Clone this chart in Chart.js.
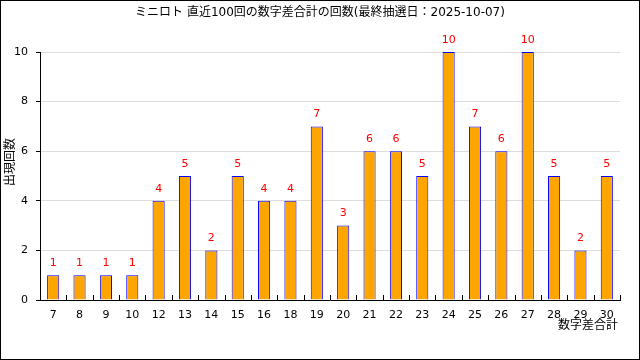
<!DOCTYPE html>
<html>
<head>
<meta charset="utf-8">
<script src="https://cdn.jsdelivr.net/npm/chart.js@4/dist/chart.umd.min.js"></script>
<style>
  html, body { margin: 0; padding: 0; background: #fff; }
  #wrap { width: 640px; height: 360px; position: relative; }
</style>
</head>
<body>
<div id="wrap"><canvas id="myChart" width="640" height="360"></canvas></div>
<script>
const categories = ['7', '8', '9', '10', '12', '13', '14', '15', '16', '18', '19',
  '20', '21', '22', '23', '24', '25', '26', '27', '28', '29', '30'];
const counts = [1, 1, 1, 1, 4, 5, 2, 5, 4, 4, 7, 3, 6, 6, 5, 10, 7, 6, 10, 5, 2, 5];
const yTicks = [0, 2, 4, 6, 8, 10];

const chartTitle = 'ミニロト 直近100回の数字差合計の回数(最終抽選日：2025-10-07)';
const yTitle = '出現回数';
const xTitle = '数字差合計';

const FONT = "'DejaVu Sans', 'Noto Sans CJK JP', sans-serif";

const decorations = {
  id: 'decorations',
  afterDraw(chart) {
    const ctx = chart.ctx;
    const area = chart.chartArea;
    const x = chart.scales.x;
    ctx.save();

    // tick marks between categories
    ctx.strokeStyle = '#000';
    ctx.lineWidth = 1;
    const step = x.getPixelForValue(1) - x.getPixelForValue(0);
    for (let i = 0; i < categories.length; i++) {
      const px = Math.round(x.getPixelForValue(i) + step / 2) + 0.5;
      ctx.beginPath();
      ctx.moveTo(px, area.bottom - 5);
      ctx.lineTo(px, area.bottom);
      ctx.stroke();
    }

    // value labels
    ctx.fillStyle = '#ff0000';
    ctx.font = '11px ' + FONT;
    ctx.textAlign = 'center';
    ctx.textBaseline = 'middle';
    const meta = chart.getDatasetMeta(0);
    meta.data.forEach((bar, i) => {
      ctx.fillText(String(counts[i]), bar.x, bar.y - 12);
    });

    // titles
    ctx.fillStyle = '#000';
    ctx.font = '12px ' + FONT;
    ctx.fillText(chartTitle, 320, 13);

    ctx.textAlign = 'right';
    ctx.fillText(xTitle, 618, 326);

    ctx.save();
    ctx.translate(11, 162);
    ctx.rotate(-Math.PI / 2);
    ctx.textAlign = 'center';
    ctx.fillText(yTitle, 0, 0);
    ctx.restore();

    // outer frame
    ctx.strokeStyle = '#000';
    ctx.strokeRect(0.5, 0.5, chart.width - 1, chart.height - 1);
    ctx.restore();
  }
};

const config = {
  type: 'bar',
  data: {
    labels: categories,
    datasets: [{
      data: counts,
      backgroundColor: '#ffa500',
      borderColor: '#0000ff',
      borderWidth: 1,
      barPercentage: 0.46,
      categoryPercentage: 1.0
    }]
  },
  options: {
    responsive: false,
    animation: false,
    layout: { padding: { top: 52, right: 20, left: 0, bottom: 0 } },
    plugins: {
      legend: { display: false },
      tooltip: { enabled: false },
      title: { display: false }
    },
    scales: {
      x: {
        offset: true,
        grid: { display: false },
        border: { color: '#000', width: 1 },
        ticks: { color: '#000', font: { size: 11, family: FONT }, padding: 1, maxRotation: 0, autoSkip: false },
        afterFit(scale) { scale.height = 60; }
      },
      y: {
        min: 0,
        max: 10,
        afterBuildTicks(scale) { scale.ticks = yTicks.map(v => ({ value: v })); },
        grid: { color: '#dddddd', tickColor: '#000', tickLength: 4, drawTicks: true },
        border: { color: '#000', width: 1 },
        ticks: { color: '#000', font: { size: 11, family: FONT }, padding: 8 },
        afterFit(scale) { scale.width = 40; }
      }
    }
  },
  plugins: [decorations]
};

const chart = () => {
  const elem = new Chart(document.getElementById('myChart'), config);
  return elem;
};

chart();
</script>
</body>
</html>
